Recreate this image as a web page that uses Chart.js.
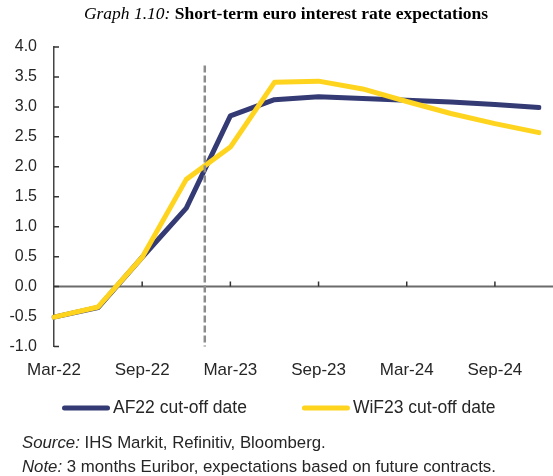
<!DOCTYPE html>
<html>
<head>
<meta charset="utf-8">
<script src="https://cdn.jsdelivr.net/npm/chart.js@4.4.1/dist/chart.umd.min.js"></script>
<style>
  body { margin: 0; background: #fff; }
  #wrap { position: relative; width: 553px; height: 476px; overflow: hidden; }
  #title {
    position: absolute; top: 5px; left: 19px; right: 0;
    text-align: center; white-space: nowrap;
    font: 17.5px/17.5px "Liberation Serif", "Times New Roman", serif; color: #000;
  }
  .note {
    position: absolute; left: 22px; white-space: nowrap;
    font: 16.8px/24px "Liberation Sans", Arial, sans-serif; color: #262626;
  }
</style>
</head>
<body>
<div id="wrap">
  <canvas id="chart"></canvas>
  <div id="title"><i>Graph 1.10:</i> <b>Short-term euro interest rate expectations</b></div>
  <div class="note" style="top:431px"><i>Source:</i> IHS Markit, Refinitiv, Bloomberg.</div>
  <div class="note" style="top:455px"><i>Note:</i> 3 months Euribor, expectations based on future contracts.</div>
</div>
<script>
// quarterly points, labels every 6 months
const quarters = ['Mar-22', 'Jun-22', 'Sep-22', 'Dec-22', 'Mar-23', 'Jun-23',
                  'Sep-23', 'Dec-23', 'Mar-24', 'Jun-24', 'Sep-24', 'Dec-24'];
const xLabels = ['Mar-22', 'Sep-22', 'Mar-23', 'Sep-23', 'Mar-24', 'Sep-24'];

const af22 =  [-0.51, -0.35, 0.49, 1.31, 2.85, 3.12, 3.17, 3.14, 3.11, 3.08, 3.04, 2.99];
const wif23 = [-0.51, -0.34, 0.49, 1.79, 2.33, 3.41, 3.43, 3.30, 3.09, 2.89, 2.72, 2.57];

// WiF23 cut-off date (early Jan 2023), as position on the quarter axis
const cutoffIndex = 3.42;
const cutoffTop = 3.69;

const navy = '#343a74';
const yellow = '#ffd41f';
const textColor = '#262626';

// zero line, small ticks, dashed cut-off line
const axisMarks = {
  id: 'axisMarks',
  beforeDatasetsDraw(chart) {
    const { ctx, chartArea } = chart;
    const x = chart.scales.x, y = chart.scales.y;
    const y0 = y.getPixelForValue(0);
    ctx.save();
    ctx.strokeStyle = '#6b6b6b';
    ctx.lineWidth = 2;
    ctx.beginPath();
    ctx.moveTo(chartArea.left, y0);
    ctx.lineTo(chart.width, y0);
    ctx.stroke();

    ctx.strokeStyle = '#333';
    ctx.lineWidth = 1.5;
    ctx.beginPath();
    quarters.forEach((q, i) => {
      if (i > 0 && xLabels.includes(q)) {
        const px = x.getPixelForValue(i);
        ctx.moveTo(px, y0);
        ctx.lineTo(px, y0 - 5);
      }
    });
    y.ticks.forEach(t => {
      const py = y.getPixelForValue(t.value);
      ctx.moveTo(chartArea.left, py);
      ctx.lineTo(chartArea.left + 5, py);
    });
    ctx.stroke();
    ctx.restore();
  },
  afterDatasetsDraw(chart) {
    const { ctx } = chart;
    const x = chart.scales.x, y = chart.scales.y;
    const px = x.getPixelForValue(cutoffIndex);
    ctx.save();
    ctx.strokeStyle = '#8c8c8c';
    ctx.lineWidth = 2.5;
    ctx.setLineDash([7, 3]);
    ctx.beginPath();
    ctx.moveTo(px, y.getPixelForValue(cutoffTop));
    ctx.lineTo(px, y.getPixelForValue(-1));
    ctx.stroke();
    ctx.restore();
  }
};

// legend row under the axis (built-in legend can't space items this wide)
const lineLegend = {
  id: 'lineLegend',
  afterDraw(chart) {
    const { ctx } = chart;
    ctx.save();
    ctx.font = '17.5px "Liberation Sans", Arial, sans-serif';
    ctx.textBaseline = 'middle';
    ctx.fillStyle = textColor;
    ctx.lineCap = 'round';
    let lx = 62;
    const ly = 408;
    chart.data.datasets.forEach(ds => {
      ctx.strokeStyle = ds.borderColor;
      ctx.lineWidth = ds.borderWidth;
      ctx.beginPath();
      ctx.moveTo(lx + 2.5, ly);
      ctx.lineTo(lx + 45.5, ly);
      ctx.stroke();
      ctx.fillText(ds.label, lx + 51, ly);
      lx += 51 + ctx.measureText(ds.label).width + 55;
    });
    ctx.restore();
  }
};

Chart.defaults.font.family = '"Liberation Sans", Arial, sans-serif';
Chart.defaults.color = textColor;

new Chart(document.getElementById('chart'), {
  type: 'line',
  data: {
    labels: quarters,
    datasets: [
      {
        label: 'AF22 cut-off date',
        data: af22,
        borderColor: navy,
        borderWidth: 5,
        borderCapStyle: 'round',
        borderJoinStyle: 'round',
        pointRadius: 0,
        tension: 0,
        order: 1
      },
      {
        label: 'WiF23 cut-off date',
        data: wif23,
        borderColor: yellow,
        borderWidth: 5,
        borderCapStyle: 'round',
        borderJoinStyle: 'round',
        pointRadius: 0,
        tension: 0,
        order: 0
      }
    ]
  },
  options: {
    responsive: true,
    maintainAspectRatio: false,
    animation: false,
    layout: { padding: { left: 0, right: 12, top: 47, bottom: 93.5 } },
    plugins: {
      tooltip: { enabled: false },
      legend: { display: false }
    },
    scales: {
      x: {
        grid: { display: false, drawTicks: false },
        border: { display: false },
        ticks: {
          autoSkip: false,
          maxRotation: 0,
          padding: 14,
          font: { size: 17 },
          callback: function (v, i) {
            const lab = quarters[i];
            return xLabels.includes(lab) ? lab : '';
          }
        },
        afterFit: s => { s.height = 36; }
      },
      y: {
        min: -1,
        max: 4,
        grid: { display: true, drawOnChartArea: false, drawTicks: false },
        border: { display: true, color: '#444', width: 1.5 },
        ticks: {
          stepSize: 0.5,
          padding: 17,
          font: { size: 16 },
          callback: v => v.toFixed(1)
        },
        afterFit: s => { s.width = 54; }
      }
    }
  },
  plugins: [axisMarks, lineLegend]
});
</script>
</body>
</html>
